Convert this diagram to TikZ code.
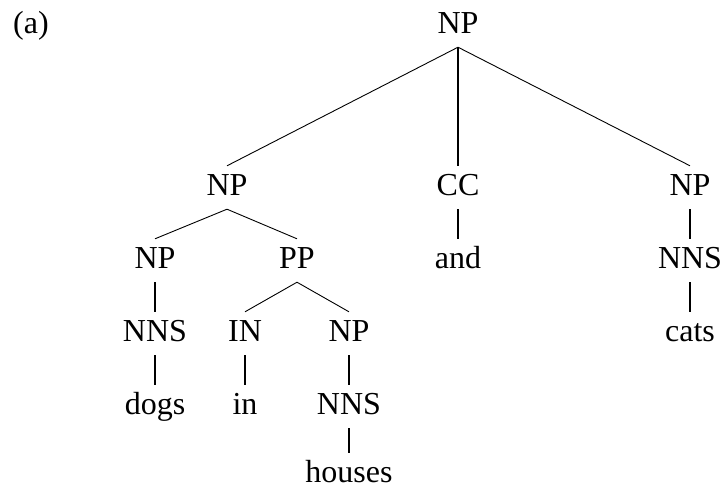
\documentclass[tikz,border=0pt]{standalone}
\usepackage{fontspec}
\setmainfont{Liberation Serif}
\begin{document}
\begin{tikzpicture}[x=1pt,y=1pt,
  lab/.style={anchor=base, inner xsep=0pt, inner ysep=7pt, text height=22pt, text depth=7pt,
              font=\fontsize{32}{38}\selectfont},
  leafbottom/.style={inner ysep=0pt, text height=29pt, text depth=0pt},
  br/.style={line width=0.9pt},
  un/.style={line width=1.6pt}]
\useasboundingbox (0,0) rectangle (725,-490);
% labels
\node[lab] (tag) at (31,-33) {(a)};
\node[lab] (np0) at (458,-33) {NP};
% row 2
\node[lab] (np1) at (227,-195) {NP};
\node[lab] (cc) at (458,-195) {CC};
\node[lab] (np2) at (690,-195) {NP};
% row 3
\node[lab] (np3) at (155,-268) {NP};
\node[lab] (pp) at (297,-268) {PP};
\node[lab] (and) at (458,-268) {and};
\node[lab] (nns1) at (690,-268) {NNS};
% row 4
\node[lab] (nns2) at (155,-341) {NNS};
\node[lab] (in1) at (245,-341) {IN};
\node[lab] (np4) at (349,-341) {NP};
\node[lab] (cats) at (690,-341) {cats};
% row 5
\node[lab] (dogs) at (155,-414) {dogs};
\node[lab] (in2) at (245,-414) {in};
\node[lab] (nns3) at (349,-414) {NNS};
% row 6
\node[lab,leafbottom] (houses) at (349,-482) {houses};
% branches
\draw[br] (np0.south) -- (np1.north);
\draw[un] (np0.south) -- (cc.north);
\draw[br] (np0.south) -- (np2.north);
\draw[br] (np1.south) -- (np3.north);
\draw[br] (np1.south) -- (pp.north);
\draw[br] (pp.south) -- (in1.north);
\draw[br] (pp.south) -- (np4.north);
% unary
\draw[un] (cc.south) -- (and.north);
\draw[un] (np2.south) -- (nns1.north);
\draw[un] (nns1.south) -- (cats.north);
\draw[un] (np3.south) -- (nns2.north);
\draw[un] (nns2.south) -- (dogs.north);
\draw[un] (in1.south) -- (in2.north);
\draw[un] (np4.south) -- (nns3.north);
\draw[un] (nns3.south) -- (houses.north);
\end{tikzpicture}
\end{document}
